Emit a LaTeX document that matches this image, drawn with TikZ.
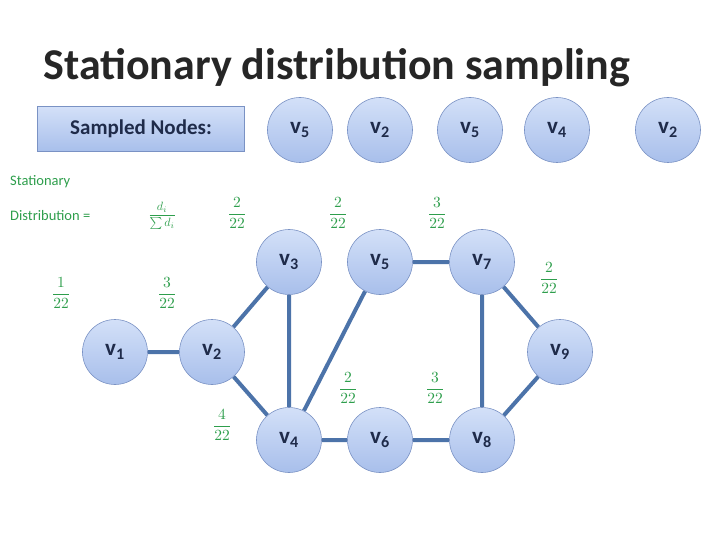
\documentclass[tikz,border=0pt]{standalone}
\usepackage{fontspec}
\setmainfont{Carlito}
\usepackage{amsmath}
\usepackage{graphicx}
\usetikzlibrary{backgrounds}
\newcommand{\bigfr}[2]{\scalebox{1.55}{$\dfrac{#1}{#2}$}}
\begin{document}
\begin{tikzpicture}[x=1pt,y=-1pt,
  vnode/.style={circle,minimum size=65pt,inner sep=0pt,draw=nodeedge,line width=0.6pt,top color=nodetop,bottom color=nodebot,text=nodetext,font=\fontsize{23}{23}\selectfont\bfseries},
  edge/.style={draw=edgec,line width=4pt},
  frac/.style={text=fracg},
]
\definecolor{nodeedge}{HTML}{7A92C4}
\definecolor{nodetop}{HTML}{D3E0F8}
\definecolor{nodebot}{HTML}{A8BFEB}
\definecolor{nodetext}{HTML}{1F2B4A}
\definecolor{edgec}{HTML}{4C73A9}
\definecolor{fracg}{HTML}{2E9E4C}
\useasboundingbox (0,0) rectangle (720,540);
\node[font=\fontsize{44}{44}\selectfont\bfseries,text=black!85,anchor=west] (title) at (40,68) {Stationary distribution sampling};
\node[draw=nodeedge,line width=0.8pt,top color=nodetop,bottom color=nodebot,minimum width=207pt,minimum height=45pt,text=nodetext,font=\fontsize{21}{21}\selectfont\bfseries] (sn) at (141,129) {Sampled Nodes:};
\node[vnode] (s1) at (300,130) {v\textsubscript{5}};
\node[vnode] (s2) at (380,130) {v\textsubscript{2}};
\node[vnode] (s3) at (470,130) {v\textsubscript{5}};
\node[vnode] (s4) at (557,130) {v\textsubscript{4}};
\node[vnode] (s5) at (668,130) {v\textsubscript{2}};
\node[text=fracg,anchor=west,inner sep=0pt] (sd) at (10,182) {\scalebox{1.45}{Stationary}};
\node[text=fracg,anchor=west,inner sep=0pt] (sdd) at (10,216) {\scalebox{1.45}{Distribution =}};
\node[text=fracg,anchor=west,inner sep=0pt] (sdf) at (148,216) {\scalebox{1.2}{$\dfrac{d_i}{\sum d_i}$}};
\node[vnode] (v1) at (115,352) {v\textsubscript{1}};
\node[vnode] (v2) at (212,352) {v\textsubscript{2}};
\node[vnode] (v3) at (289,262) {v\textsubscript{3}};
\node[vnode] (v4) at (289,440) {v\textsubscript{4}};
\node[vnode] (v5) at (380,262) {v\textsubscript{5}};
\node[vnode] (v6) at (380,440) {v\textsubscript{6}};
\node[vnode] (v7) at (482,262) {v\textsubscript{7}};
\node[vnode] (v8) at (482,440) {v\textsubscript{8}};
\node[vnode] (v9) at (560,352) {v\textsubscript{9}};
\begin{pgfonlayer}{background}
\path[edge] (v1)--(v2) (v2)--(v3) (v2)--(v4) (v3)--(v4) (v4)--(v5) (v4)--(v6) (v5)--(v7) (v6)--(v8) (v7)--(v8) (v7)--(v9) (v8)--(v9);
\end{pgfonlayer}
\node[frac] (f1) at (237,213) {\bigfr{2}{22}};
\node[frac] (f2) at (338,213) {\bigfr{2}{22}};
\node[frac] (f3) at (437,213) {\bigfr{3}{22}};
\node[frac] (f4) at (61,293) {\bigfr{1}{22}};
\node[frac] (f5) at (167,293) {\bigfr{3}{22}};
\node[frac] (f6) at (549,278) {\bigfr{2}{22}};
\node[frac] (f7) at (222,425) {\bigfr{4}{22}};
\node[frac] (f8) at (348,388) {\bigfr{2}{22}};
\node[frac] (f9) at (435,388) {\bigfr{3}{22}};
\end{tikzpicture}
\end{document}
